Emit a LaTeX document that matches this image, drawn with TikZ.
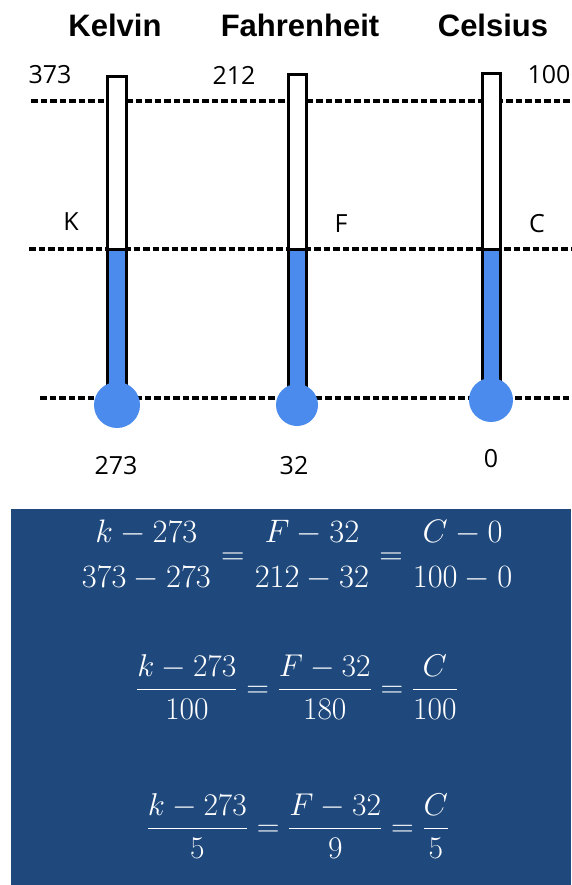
\RequirePackage{fix-cm}
\documentclass[tikz,border=0pt]{standalone}
\usepackage{amsmath}
\usepackage{fontspec}
\setmainfont{Open Sans}
\newfontfamily\titlefont{Liberation Sans}
\definecolor{tblue}{RGB}{74,139,237}
\definecolor{boxblue}{RGB}{31,73,125}
\begin{document}
\begin{tikzpicture}[x=1pt,y=-1pt]
\tikzset{
  dline/.style={line width=3.4pt, dash pattern=on 6.5pt off 3pt},
  tubewhite/.style={draw=black, fill=white, line width=3pt},
  tubeblue/.style={draw=black, fill=tblue, line width=3pt},
  bulbfill/.style={fill=tblue},
  title/.style={font=\titlefont\bfseries\fontsize{31}{33}\selectfont, inner sep=0pt},
  lab/.style={font=\fontsize{25}{27}\selectfont, inner sep=0pt},
  eq/.style={text=white, font=\fontsize{31.5}{35}\selectfont, inner sep=0pt},
  eqbig/.style={text=white, font=\fontsize{32.5}{36}\selectfont, inner sep=0pt}
}
\useasboundingbox (0,0) rectangle (571,885);
% titles
\node[title] (tk) at (115,25) {Kelvin};
\node[title] (tf) at (300,25) {Fahrenheit};
\node[title] (tc) at (493,25) {Celsius};
% dashed reference lines
\coordinate (a1) at (31,101);  \coordinate (a2) at (571,101);
\coordinate (b1) at (29,249);  \coordinate (b2) at (571,249);
\coordinate (c1) at (40,398);  \coordinate (c2) at (571,398);
\draw[dline] (a1) -- (a2);
\draw[dline] (b1) -- (b2);
\draw[dline] (c1) -- (c2);
% Kelvin thermometer
\draw[tubewhite] (107,77) rectangle (126,249);
\draw[tubeblue] (107,249) rectangle (126,395);
\fill[bulbfill] (117,405) circle (23);
% Fahrenheit thermometer
\draw[tubewhite] (288,75) rectangle (306,249);
\draw[tubeblue] (288,249) rectangle (306,395);
\fill[bulbfill] (297,405) circle (21);
% Celsius thermometer
\draw[tubewhite] (482,74) rectangle (500,249);
\draw[tubeblue] (482,249) rectangle (500,390);
\fill[bulbfill] (491,400) circle (22);
% labels
\node[lab] (l373) at (50,75) {373};
\node[lab] (l212) at (234,75) {212};
\node[lab] (l100) at (549,75) {100};
\node[lab] (lK) at (71,222) {K};
\node[lab] (lF) at (341,224) {F};
\node[lab] (lC) at (537,224) {C};
\node[lab] (l273) at (116,466) {273};
\node[lab] (l32) at (294,466) {32};
\node[lab] (l0) at (491,459) {0};
% formula box
\fill[boxblue] (11,509) rectangle (571,885);
\node[eqbig] (e1) at (297,555) {$\genfrac{}{}{0pt}{0}{k-273}{373-273}=\genfrac{}{}{0pt}{0}{F-32}{212-32}=\genfrac{}{}{0pt}{0}{C-0}{100-0}$};
\node[eq] (e2) at (297,687) {$\dfrac{k-273}{100}=\dfrac{F-32}{180}=\dfrac{C}{100}$};
\node[eq] (e3) at (298,826) {$\dfrac{k-273}{5}=\dfrac{F-32}{9}=\dfrac{C}{5}$};
\end{tikzpicture}
\end{document}
